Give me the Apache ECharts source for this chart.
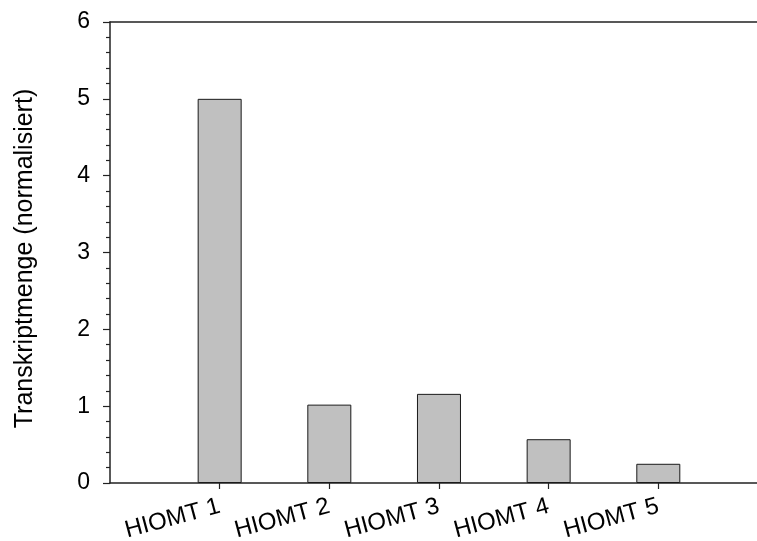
<!DOCTYPE html>
<html>
<head>
<meta charset="utf-8">
<script src="https://cdn.jsdelivr.net/npm/echarts@6/dist/echarts.min.js"></script>
<style>
  html, body { margin: 0; padding: 0; background: #ffffff; }
  #chart { width: 757px; height: 541px; }
</style>
</head>
<body>
<div id="chart"></div>
<script>
// Sample names and their normalised transcript amounts
const categories = ['HIOMT 1', 'HIOMT 2', 'HIOMT 3', 'HIOMT 4', 'HIOMT 5'];
const positions = [1, 2, 3, 4, 5];
const transcriptAmounts = [5.0, 1.02, 1.16, 0.57, 0.25];
const yTicks = [0, 1, 2, 3, 4, 5, 6];

const FONT = '"Liberation Sans", Arial, sans-serif';
const INK = '#000000';
const LINE = '#222222';

const chart = echarts.init(document.getElementById('chart'), null, { renderer: 'canvas' });

chart.setOption({
  animation: false,
  backgroundColor: '#ffffff',
  grid: { left: 110, right: 0, top: 22, bottom: 58, containLabel: false, outerBoundsMode: 'none' },
  xAxis: [
    {
      type: 'value',
      min: 0,
      max: 5.9,
      interval: 1,
      splitLine: { show: false },
      axisLine: { show: true, lineStyle: { color: LINE, width: 1.5 } },
      axisTick: {
        show: true, inside: false, length: 6,
        customValues: positions,
        lineStyle: { color: LINE, width: 1.2 }
      },
      axisLabel: {
        show: true,
        customValues: positions,
        rotate: 15,
        margin: 23,
        fontFamily: FONT,
        fontSize: 24,
        color: INK,
        formatter: v => categories[positions.indexOf(Math.round(v))] || ''
      }
    },
    {
      type: 'value',
      position: 'top',
      min: 0,
      max: 5.9,
      splitLine: { show: false },
      axisLine: { show: true, lineStyle: { color: LINE, width: 1.5 } },
      axisTick: { show: false },
      axisLabel: { show: false }
    }
  ],
  yAxis: {
    type: 'value',
    min: yTicks[0],
    max: yTicks[yTicks.length - 1],
    interval: 1,
    name: 'Transkriptmenge (normalisiert)',
    nameLocation: 'middle',
    nameGap: 72,
    nameTextStyle: { fontFamily: FONT, fontSize: 25, color: INK, padding: [0, 12, 0, 0] },
    splitLine: { show: false },
    axisLine: { show: true, lineStyle: { color: LINE, width: 1.5 } },
    axisTick: { show: true, inside: false, length: 7, lineStyle: { color: LINE, width: 1.2 } },
    minorTick: { show: true, splitNumber: 5, length: 4, lineStyle: { color: LINE, width: 1.2 } },
    axisLabel: {
      margin: 20,
      fontFamily: FONT,
      fontSize: 23,
      color: INK
    }
  },
  series: [{
    type: 'bar',
    xAxisIndex: 0,
    barWidth: 44,
    data: positions.map((p, i) => [p, transcriptAmounts[i]]),
    itemStyle: { color: '#c0c0c0', borderColor: '#1a1a1a', borderWidth: 1 },
    emphasis: { disabled: true }
  }]
});
</script>
</body>
</html>
